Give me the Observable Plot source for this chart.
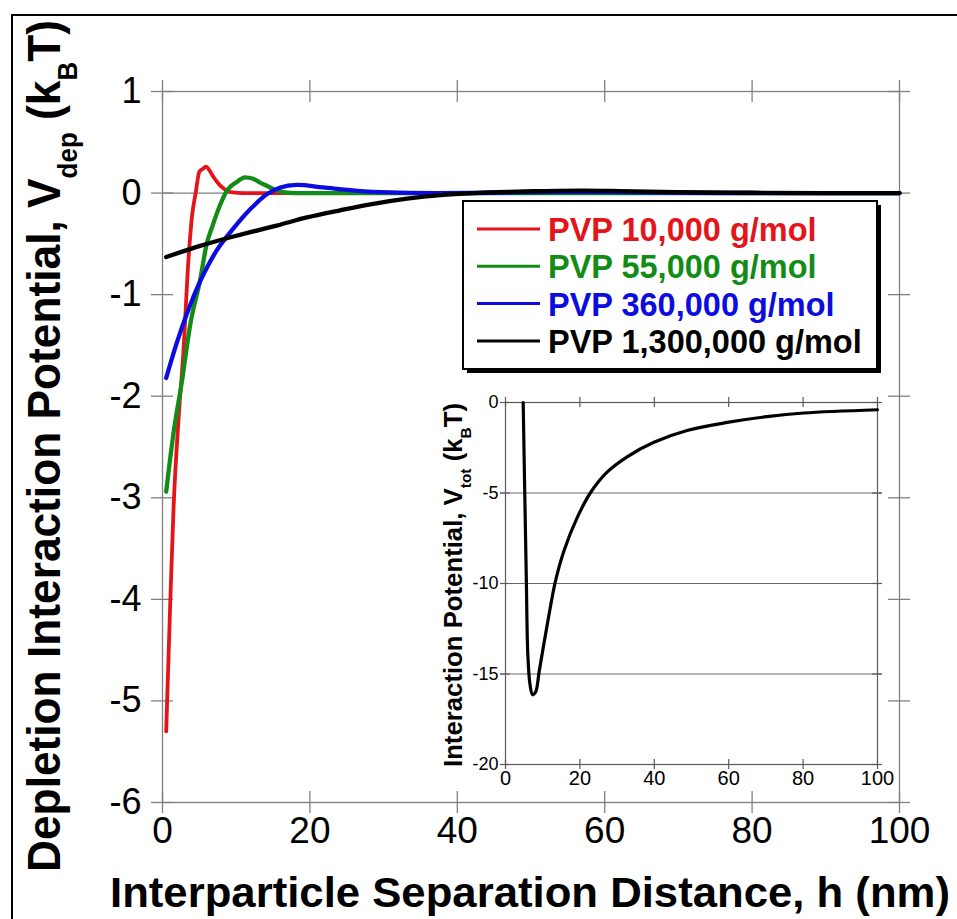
<!DOCTYPE html>
<html><head><meta charset="utf-8">
<script src="https://cdn.jsdelivr.net/npm/d3@7"></script>
<script src="https://cdn.jsdelivr.net/npm/@observablehq/plot@0.6"></script>
<style>
html,body{margin:0;padding:0;background:#fff;overflow:hidden;}
#wrap{position:relative;width:957px;height:919px;font-family:"Liberation Sans",Arial,sans-serif;}
#wrap > svg{position:absolute;}
</style></head><body><div id="wrap"></div>
<script>
// ---- tick values / labels ----
const xTicks = [0, 20, 40, 60, 80, 100];
const xTickLabels = ["0", "20", "40", "60", "80", "100"];
const yTicks = [1, 0, -1, -2, -3, -4, -5, -6];
const yTickLabels = ["1", "0", "-1", "-2", "-3", "-4", "-5", "-6"];
const insetXTicks = [0, 20, 40, 60, 80, 100];
const insetXTickLabels = ["0", "20", "40", "60", "80", "100"];
const insetYTicks = [0, -5, -10, -15, -20];
const insetYTickLabels = ["0", "-5", "-10", "-15", "-20"];
const insetGrid = [-5, -10, -15];

// ---- series ----
const seriesNames = ["PVP 10,000 g/mol", "PVP 55,000 g/mol", "PVP 360,000 g/mol", "PVP 1,300,000 g/mol"];
const seriesColors = ["#e4141b", "#138c17", "#0c0ce0", "#000000"];
const seriesCurves = ["monotone-x", "monotone-x", "catmull-rom", "catmull-rom"];

const h10k = [0.5, 1.0, 1.5, 2.2, 2.85, 3.5, 4.0, 4.5, 5.0, 5.5, 5.9, 6.4, 6.9, 7.8, 8.7, 9.8, 12, 20, 40, 70, 100];
const v10k = [-5.3, -4.15, -3.1, -2.2, -1.55, -0.68, -0.23, 0.0, 0.21, 0.24, 0.26, 0.22, 0.16, 0.076, 0.027, 0.005, 0, 0, 0, 0, 0];

const h55k = [0.5, 1.5, 2.6, 3.8, 5.1, 6.0, 6.8, 7.8, 8.7, 10.1, 11.2, 12.3, 13.3, 14.2, 15.0, 16.4, 18, 25, 40, 70, 100];
const v55k = [-2.94, -2.36, -1.87, -1.28, -0.86, -0.5, -0.32, -0.12, 0.02, 0.11, 0.155, 0.14, 0.1, 0.07, 0.04, 0.01, 0, 0, 0, 0, 0];

const h360k = [0.5, 2.0, 3.3, 5.1, 7.4, 9.6, 11.9, 14.2, 16.0, 18.2, 21.8, 26.4, 30.9, 37, 45, 52, 60, 70, 85, 100];
const v360k = [-1.82, -1.46, -1.19, -0.87, -0.56, -0.35, -0.16, -0.01, 0.055, 0.08, 0.055, 0.022, 0.006, 0.0, 0.003, 0.01, 0.01, 0.003, 0, 0];

const h1300k = [0.5, 5.1, 10, 15.5, 19.6, 24.1, 28.6, 33.2, 37.7, 42.2, 47, 52, 57, 62, 70, 80, 90, 100];
const v1300k = [-0.63, -0.52, -0.42, -0.32, -0.24, -0.17, -0.106, -0.055, -0.02, 0.0, 0.012, 0.02, 0.024, 0.02, 0.01, 0.003, 0, 0];

// ---- inset: total interaction potential ----
const hTot = [4.75, 5.6, 6.0, 6.6, 7.3, 8.1, 9.1, 11.2, 13.4, 15.7, 19.3, 22.8, 27.3, 32.7, 39.9, 48.8, 59.6, 70.3, 80.2, 100];
const vTot = [0, -9.8, -13.9, -15.6, -16.15, -16.0, -14.8, -12.3, -9.9, -8.2, -6.35, -5.0, -3.85, -3.0, -2.2, -1.55, -1.1, -0.78, -0.58, -0.4];

const seriesH = [h10k, h55k, h360k, h1300k];
const seriesV = [v10k, v55k, v360k, v1300k];
const rowsFor = i => seriesH[i].map((h, j) => ({h, v: seriesV[i][j], series: seriesNames[i]}));
const totRows = hTot.map((h, j) => ({h, v: vTot[j]}));

const wrap = document.getElementById("wrap");
const FONT = "Liberation Sans, Arial, sans-serif";
const AX = "#808080";

// ---- main chart ----
const W = 957, H = 919, mL = 162, mR = 58, mT = 91, mB = 117;
const PW = W - mL - mR, PH = H - mT - mB;
const main = Plot.plot({
  width: W, height: H,
  marginLeft: mL, marginRight: mR, marginTop: mT, marginBottom: mB,
  style: {fontFamily: FONT, background: "transparent", color: "#000"},
  x: {domain: [0, 100]},
  y: {domain: [-6, 1]},
  color: {domain: seriesNames, range: seriesColors},
  marks: [
    Plot.frame({stroke: AX, strokeWidth: 1.3}),
    Plot.ruleY([0], {stroke: AX, strokeWidth: 1.2}),
    Plot.gridY(yTicks, {stroke: AX, strokeOpacity: 1, strokeWidth: 1.3, insetLeft: -11, insetRight: PW - 11}),
    Plot.gridY(yTicks, {stroke: AX, strokeOpacity: 1, strokeWidth: 1.3, insetLeft: PW - 11, insetRight: -11}),
    Plot.gridX(xTicks, {stroke: AX, strokeOpacity: 1, strokeWidth: 1.3, insetTop: -11, insetBottom: PH - 11}),
    Plot.gridX(xTicks, {stroke: AX, strokeOpacity: 1, strokeWidth: 1.3, insetTop: PH - 11, insetBottom: -11}),
    Plot.axisY(yTicks, {tickSize: 0, tickPadding: 21, fontSize: 36, label: null,
      tickFormat: d => yTickLabels[yTicks.indexOf(d)], fill: "#000"}),
    Plot.axisX(xTicks, {tickSize: 0, tickPadding: 14, fontSize: 37, label: null,
      tickFormat: d => xTickLabels[xTicks.indexOf(d)], fill: "#000"}),
    ...seriesNames.map((name, i) => Plot.line(rowsFor(i), {x: "h", y: "v", stroke: "series",
      strokeWidth: i === 0 ? 3.8 : 4.3, curve: seriesCurves[i], strokeLinejoin: "round"}))
  ]
});
main.style.left = "0px"; main.style.top = "0px";
wrap.appendChild(main);

// ---- inset chart ----
const iW = 480, iH = 420, iL = 85, iR = 23, iT = 22, iB = 36;
const iPW = iW - iL - iR, iPH = iH - iT - iB;
const IAX = "#5a5a5a";
const inset = Plot.plot({
  width: iW, height: iH,
  marginLeft: iL, marginRight: iR, marginTop: iT, marginBottom: iB,
  style: {fontFamily: FONT, background: "transparent", color: "#000"},
  x: {domain: [0, 100]},
  y: {domain: [-20, 0]},
  marks: [
    Plot.frame({fill: "white", stroke: IAX, strokeWidth: 1.2}),
    Plot.gridY(insetGrid, {stroke: "#6a6a6a", strokeOpacity: 1, strokeWidth: 1.2, insetLeft: -5, insetRight: -5}),
    Plot.gridY(insetYTicks, {stroke: IAX, strokeOpacity: 1, strokeWidth: 1.2, insetLeft: -5, insetRight: iPW - 5}),
    Plot.gridY(insetYTicks, {stroke: IAX, strokeOpacity: 1, strokeWidth: 1.2, insetLeft: iPW - 5, insetRight: -5}),
    Plot.gridX(insetXTicks, {stroke: IAX, strokeOpacity: 1, strokeWidth: 1.2, insetTop: -5, insetBottom: iPH - 5}),
    Plot.gridX(insetXTicks, {stroke: IAX, strokeOpacity: 1, strokeWidth: 1.2, insetTop: iPH - 5, insetBottom: -5}),
    Plot.axisY(insetYTicks, {tickSize: 0, tickPadding: 7, fontSize: 18, label: null,
      tickFormat: d => insetYTickLabels[insetYTicks.indexOf(d)], fill: "#000"}),
    Plot.axisX(insetXTicks, {tickSize: 0, tickPadding: 6, fontSize: 20, label: null,
      tickFormat: d => insetXTickLabels[insetXTicks.indexOf(d)], fill: "#000"}),
    Plot.line(totRows, {x: "h", y: "v", stroke: "#000", strokeWidth: 3.2, curve: "catmull-rom", strokeLinejoin: "round"})
  ]
});
inset.style.left = "420px"; inset.style.top = "380px";
wrap.appendChild(inset);

// ---- overlay: border, titles, legend ----
const ov = d3.create("svg").attr("width", W).attr("height", H)
  .style("left", "0px").style("top", "0px").style("pointer-events", "none")
  .attr("font-family", FONT);

ov.append("path").attr("d", "M12,919V15H957").attr("fill", "none").attr("stroke", "#000").attr("stroke-width", 2);

// main y title
const yt = ov.append("text").attr("transform", "translate(60,446) rotate(-90)")
  .attr("text-anchor", "middle").attr("font-weight", "bold").attr("font-size", 46)
  .attr("textLength", 852).attr("lengthAdjust", "spacingAndGlyphs");
yt.append("tspan").text("Depletion Interaction Potential, V");
yt.append("tspan").attr("dy", 17).attr("font-size", 27).text("dep");
yt.append("tspan").attr("dy", -17).text("\u00a0(k");
yt.append("tspan").attr("dy", 17).attr("font-size", 27).text("B");
yt.append("tspan").attr("dy", -17).text("T)");

// main x title
ov.append("text").attr("x", 530).attr("y", 907).attr("text-anchor", "middle")
  .attr("font-weight", "bold").attr("font-size", 42)
  .attr("textLength", 840).attr("lengthAdjust", "spacingAndGlyphs")
  .text("Interparticle Separation Distance, h (nm)");

// inset y title
const it = ov.append("text").attr("transform", "translate(462,585) rotate(-90)")
  .attr("text-anchor", "middle").attr("font-weight", "bold").attr("font-size", 25)
  .attr("textLength", 364).attr("lengthAdjust", "spacingAndGlyphs");
it.append("tspan").text("Interaction Potential, V");
it.append("tspan").attr("dy", 9).attr("font-size", 15).text("tot");
it.append("tspan").attr("dy", -9).text(" (k");
it.append("tspan").attr("dy", 9).attr("font-size", 15).text("B");
it.append("tspan").attr("dy", -9).text("T)");

// legend
const lg = ov.append("g");
lg.append("rect").attr("x", 467).attr("y", 205).attr("width", 414).attr("height", 168).attr("fill", "#000");
lg.append("rect").attr("x", 463).attr("y", 201).attr("width", 414).attr("height", 168)
  .attr("fill", "#fff").attr("stroke", "#000").attr("stroke-width", 2);
seriesNames.forEach((name, i) => {
  const cy = 229 + i * 37.3;
  lg.append("line").attr("x1", 477).attr("x2", 540).attr("y1", cy).attr("y2", cy)
    .attr("stroke", seriesColors[i]).attr("stroke-width", 3);
  lg.append("text").attr("x", 548).attr("y", cy + 12).attr("font-weight", "bold")
    .attr("font-size", 32.5).attr("fill", seriesColors[i]).text(name);
});
wrap.appendChild(ov.node());
</script></body></html>
